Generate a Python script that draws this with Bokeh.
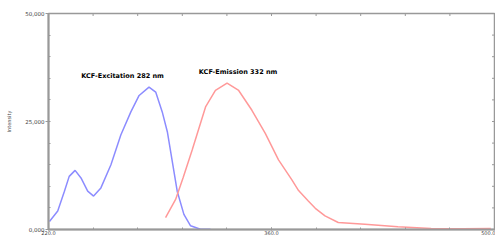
from bokeh.plotting import figure
from bokeh.models import FixedTicker, Range1d, Label
from bokeh.embed import file_html
from bokeh.resources import INLINE

# Excitation spectrum (blue)
exc_wl = [220.6, 225.8, 230.0, 233.0, 236.7, 240.4, 244.6, 248.3, 252.9, 259.2, 265.4,
          271.7, 276.9, 283.1, 287.3, 291.4, 294.6, 297.7, 300.8, 305.0, 309.2, 315.4, 321.7]
exc_int = [1835, 4290, 8870, 12300, 13690, 11930, 8870, 7730, 9630, 14980, 21860,
           27220, 31030, 32960, 31810, 27220, 22640, 15760, 8870, 3510, 850, 70, 70]

# Emission spectrum (red)
em_wl = [293.5, 299.8, 304.5, 310.2, 318.6, 324.8, 332.1, 339.4, 347.7, 356.1, 364.4,
         372.7, 377.0, 383.1, 387.5, 393.6, 401.9, 418.6, 439.4, 460.2, 480.0, 497.7]
em_int = [2750, 6950, 12000, 18420, 28370, 32180, 33870, 32180, 27600, 22250, 16130,
          11540, 9020, 6580, 4900, 3140, 1610, 1220, 620, 230, 200, 230]

x_major = [220, 360, 500]
x_labels = ["220.0", "360.0", "500.0"]
y_major = [0, 25000, 50000]
y_labels = ["0,000", "25,000", "50,000"]
x_minor = [220 + 28 * i for i in range(11)]
y_minor = [5000 * i for i in range(11)]

annotations = ["KCF-Excitation 282 nm", "KCF-Emission 332 nm"]
x_title = "Wavelength (nm)"
y_title = "Intensity"

X0, X1, Y0, Y1 = 220, 500, 0, 50000
FRAME_W, FRAME_H = 446, 216

p = figure(width=495, height=241, x_range=Range1d(X0, X1), y_range=Range1d(Y0, Y1),
           output_backend="svg", toolbar_location=None,
           min_border_left=48, min_border_top=13, min_border_right=1, min_border_bottom=12)
p.xgrid.visible = False
p.ygrid.visible = False
p.outline_line_color = "#999999"
p.outline_line_width = 1.5

axis_col = "#999999"
font = "DejaVu Sans"

xa = p.xaxis[0]
xa.ticker = FixedTicker(ticks=x_major, minor_ticks=x_minor)
xa.major_label_overrides = {v: s for v, s in zip(x_major, x_labels)}
xa.major_label_text_font_size = "5px"
xa.major_label_text_font = font
xa.major_label_standoff = 0
xa.axis_line_color = axis_col
xa.axis_line_width = 2
xa.major_tick_line_color = axis_col
xa.minor_tick_line_color = axis_col
xa.major_tick_in = 2
xa.major_tick_out = 1
xa.minor_tick_in = 2
xa.minor_tick_out = 0

ya = p.yaxis[0]
ya.ticker = FixedTicker(ticks=y_major, minor_ticks=y_minor)
ya.major_label_overrides = {v: s for v, s in zip(y_major, y_labels)}
ya.axis_label = y_title
ya.axis_label_text_font_size = "5px"
ya.axis_label_text_font_style = "normal"
ya.axis_label_text_font = font
ya.axis_label_standoff = 10
ya.major_label_text_font_size = "5.5px"
ya.major_label_text_font = font
ya.major_label_standoff = 1
ya.major_label_orientation = "horizontal"
ya.axis_line_color = axis_col
ya.axis_line_width = 2
ya.major_tick_line_color = axis_col
ya.minor_tick_line_color = axis_col
ya.major_tick_in = 0
ya.major_tick_out = 3
ya.minor_tick_in = 2
ya.minor_tick_out = 0

# inward ticks on the top and right frame edges
tick_dx = (X1 - X0) * 2.5 / FRAME_W
tick_dy = (Y1 - Y0) * 2.5 / FRAME_H
p.segment(x0=x_minor, y0=[Y1] * len(x_minor), x1=x_minor, y1=[Y1 - tick_dy] * len(x_minor),
          line_color=axis_col, line_width=1)
p.segment(x0=[X1] * len(y_minor), y0=y_minor, x1=[X1 - tick_dx] * len(y_minor), y1=y_minor,
          line_color=axis_col, line_width=1)

p.line(exc_wl, exc_int, line_color="#8c8cff", line_width=1.5)
p.line(em_wl, em_int, line_color="#ff9999", line_width=1.5)

p.add_layout(Label(x=240.6, y=35550, text=annotations[0], text_font=font,
                   text_font_size="6.5px", text_font_style="bold", text_color="black",
                   text_baseline="middle"))
p.add_layout(Label(x=314.4, y=36470, text=annotations[1], text_font=font,
                   text_font_size="6.5px", text_font_style="bold", text_color="black",
                   text_baseline="middle"))
# x-axis title just under the tick labels
p.add_layout(Label(x=(X0 + X1) / 2, y=-(Y1 - Y0) * 8.5 / FRAME_H, text=x_title, text_font=font,
                   text_font_size="5px", text_color="black", text_align="center",
                   text_baseline="middle"))

open("out.html", "w").write(file_html(p, INLINE))
